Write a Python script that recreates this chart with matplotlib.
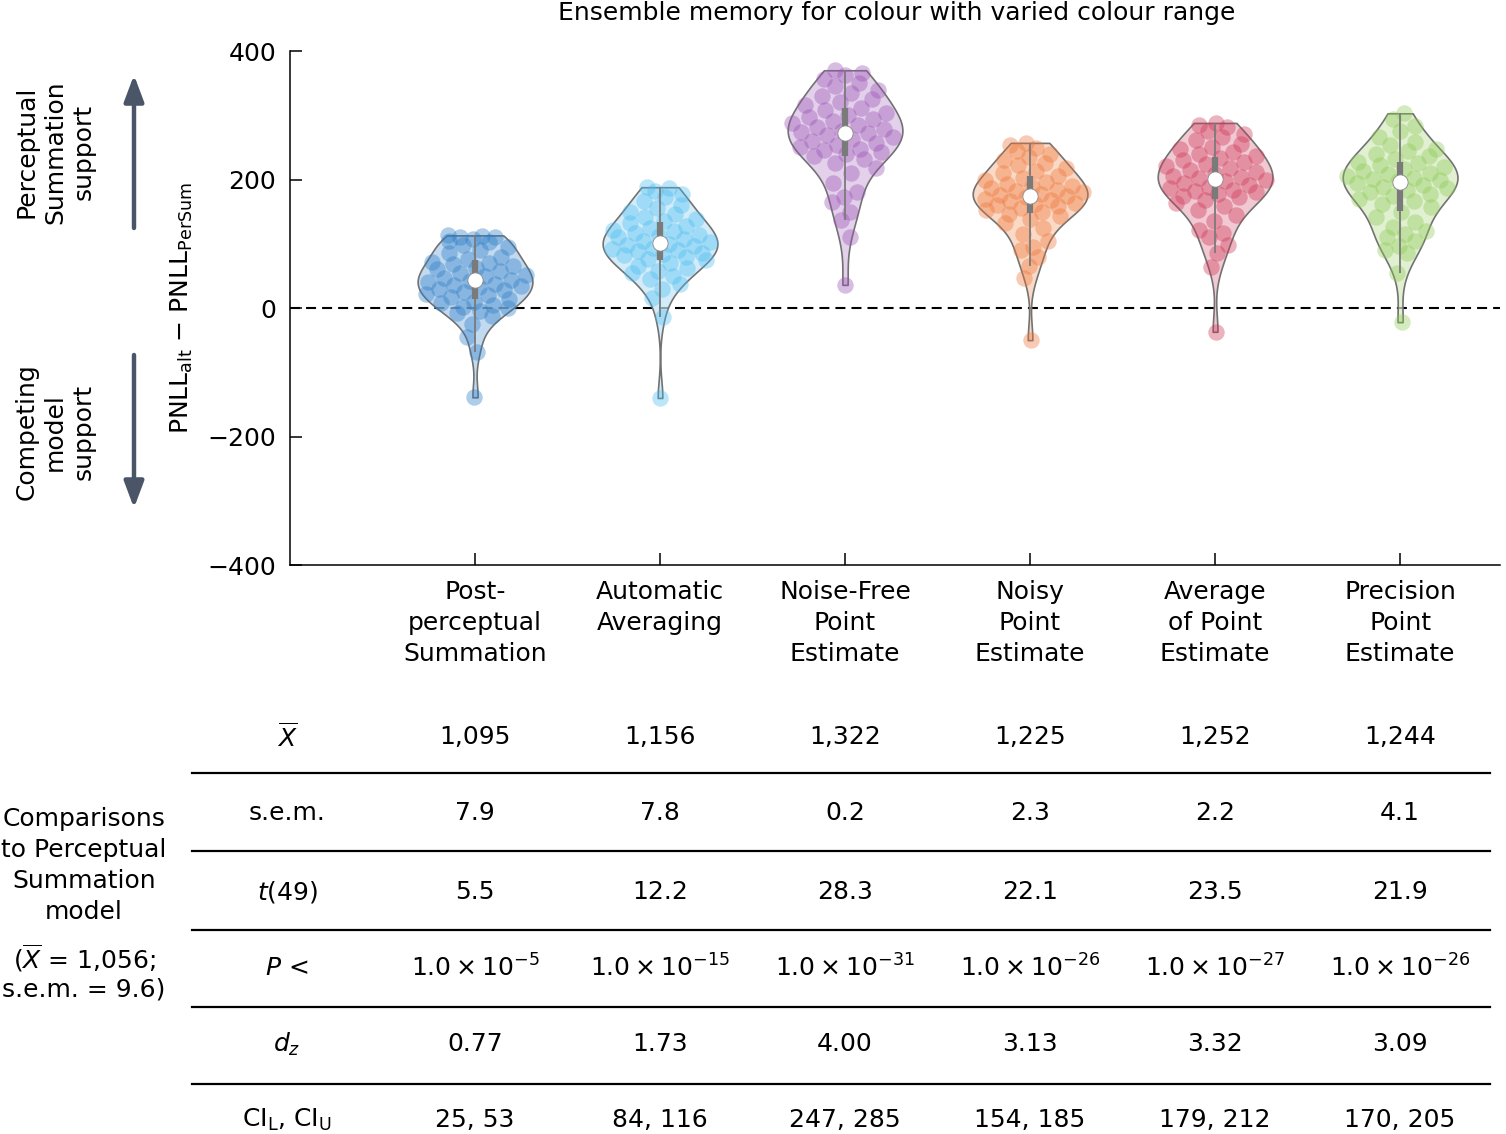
import numpy as np
import matplotlib
matplotlib.use("Agg")
import matplotlib.pyplot as plt
from matplotlib.colors import to_rgba
from matplotlib.lines import Line2D
import matplotlib.transforms as mtransforms

FONT = "DejaVu Sans"
plt.rcParams['font.family'] = [FONT]
plt.rcParams['mathtext.fontset'] = 'dejavusans'

# ---------------- data ----------------
categories = ["Post-\nperceptual\nSummation", "Automatic\nAveraging", "Noise-Free\nPoint\nEstimate",
              "Noisy\nPoint\nEstimate", "Average\nof Point\nEstimate", "Precision\nPoint\nEstimate"]

post_perceptual = [113, 112, 110, 110, 108, 105, 102, 98, 95, 90, 85, 80, 76, 72, 70, 68, 65, 62, 60, 57,
                   55, 52, 50, 47, 44, 42, 40, 38, 36, 35, 33, 30, 28, 25, 22, 20, 17, 14, 10, 8,
                   5, 2, 0, -4, -8, -12, -25, -45, -68, -139]
automatic_avg = [188, 186, 182, 178, 172, 166, 160, 155, 150, 146, 142, 138, 135, 132, 128, 125, 122, 120, 117, 114,
                 112, 110, 107, 105, 102, 100, 98, 96, 94, 92, 90, 88, 86, 84, 82, 80, 77, 74, 70, 66,
                 62, 58, 54, 50, 45, 38, 30, 15, -14, -140]
noise_free = [370, 366, 362, 356, 350, 345, 340, 335, 330, 325, 320, 316, 312, 308, 304, 300, 297, 294, 291, 288,
              285, 282, 279, 276, 274, 272, 269, 266, 263, 260, 257, 254, 251, 248, 246, 243, 240, 236, 232, 226,
              218, 210, 195, 180, 172, 165, 150, 137, 110, 36]
noisy = [257, 253, 249, 245, 240, 235, 230, 226, 222, 218, 214, 210, 206, 202, 199, 196, 193, 190, 188, 186,
         184, 182, 180, 178, 176, 174, 172, 170, 168, 166, 164, 162, 160, 158, 156, 153, 150, 147, 143, 138,
         132, 125, 115, 105, 95, 90, 80, 65, 47, -50]
average_pe = [288, 285, 281, 276, 271, 266, 261, 256, 251, 247, 243, 239, 236, 233, 230, 227, 224, 221, 218, 215,
              212, 209, 206, 204, 202, 200, 197, 194, 191, 188, 186, 184, 182, 180, 178, 175, 172, 168, 163, 158,
              152, 145, 135, 121, 116, 110, 98, 85, 64, -37]
precision_pe = [303, 294, 284, 275, 266, 259, 253, 248, 244, 240, 236, 232, 228, 225, 222, 219, 216, 213, 210, 208,
                206, 203, 201, 199, 197, 195, 192, 189, 186, 183, 180, 177, 174, 170, 166, 162, 157, 150, 142, 134,
                126, 120, 115, 110, 104, 97, 90, 85, 54, -22]

groups = [post_perceptual, automatic_avg, noise_free, noisy, average_pe, precision_pe]

point_colors = ["#2b7cc6", "#4dbdf0", "#9a52b4", "#ef7638", "#cf3556", "#8ccb55"]
fill_colors = ["#a9cbea", "#bfe5f8", "#d8bde3", "#f8c9ae", "#ebb3c0", "#d3eabd"]

yticks = [-400, -200, 0, 200, 400]

row_labels = [r"$\overline{X}$", "s.e.m.", r"$t$(49)", r"$P$ <", r"$d_z$",
              r"CI$_{\mathrm{L}}$, CI$_{\mathrm{U}}$"]
mean_vals = ["1,095", "1,156", "1,322", "1,225", "1,252", "1,244"]
sem_vals = ["7.9", "7.8", "0.2", "2.3", "2.2", "4.1"]
t_vals = ["5.5", "12.2", "28.3", "22.1", "23.5", "21.9"]
p_exps = ["-5", "-15", "-31", "-26", "-27", "-26"]
dz_vals = ["0.77", "1.73", "4.00", "3.13", "3.32", "3.09"]
ci_vals = ["25, 53", "84, 116", "247, 285", "154, 185", "179, 212", "170, 205"]

# ---------------- figure ----------------
W, H = 1506, 1134
fig = plt.figure(figsize=(W / 100, H / 100), dpi=100)
ax = fig.add_axes([290 / W, 1 - 565 / H, (1500 - 290) / W, (565 - 51) / H])
FS = 18

positions = np.arange(len(groups))
ax.set_xlim(-1, 5.54)
ax.set_ylim(-400, 400)

ax.axhline(0, color='black', lw=1.5, dashes=(4.8, 2.9), zorder=1)

VW = 0.62
parts = ax.violinplot(groups, positions=positions, widths=VW, showextrema=False)
for body, fc in zip(parts['bodies'], fill_colors):
    body.set_alpha(None)
    body.set_facecolor(to_rgba(fc, 0.7))
    body.set_edgecolor('#727272')
    body.set_linewidth(1.2)
    body.set_zorder(2)

golden = 0.6180339887
for i, (vals, pc) in enumerate(zip(groups, point_colors)):
    v = np.asarray(vals, float)
    n = len(v)
    h = v.std(ddof=1) * n ** (-0.2)
    grid = np.linspace(v.min(), v.max(), 300)
    dens = lambda y: np.exp(-0.5 * ((np.atleast_1d(y)[:, None] - v[None, :]) / h) ** 2).sum(1)
    dmax = dens(grid).max()
    half = (VW / 2) * dens(v) / dmax
    u = ((np.arange(n) * golden + 0.13 * i) % 1.0) * 2 - 1
    xs = positions[i] + half * u * 0.95
    ax.scatter(xs, v, s=140, color=pc, alpha=0.38, linewidths=0, zorder=3)

    q1, med, q3 = np.percentile(v, [25, 50, 75])
    iqr = q3 - q1
    lo = v[v >= q1 - 1.5 * iqr].min()
    hi = v[v <= q3 + 1.5 * iqr].max()
    ax.vlines(positions[i], lo, hi, color='#7a7a7a', lw=1.3, zorder=4)
    ax.vlines(positions[i], q1, q3, color='#7a7a7a', lw=4.5, zorder=4)
    ax.scatter([positions[i]], [med], s=120, color='white', edgecolors='#8a8a8a',
               linewidths=0.6, zorder=5)

ax.spines['top'].set_visible(False)
ax.spines['right'].set_visible(False)
for s in ['left', 'bottom']:
    ax.spines[s].set_linewidth(1.1)
ax.set_yticks(yticks)
ax.set_xticks(positions)
ax.set_xticklabels(categories, fontsize=FS, linespacing=1.36)
ax.tick_params(axis='both', direction='in', length=8.5, width=1.1, labelsize=FS, pad=10)
ax.tick_params(axis='x', pad=11)


def T(x, y, s, **kw):
    kw.setdefault('ha', 'center')
    kw.setdefault('va', 'center')
    kw.setdefault('fontsize', FS)
    return fig.text(x / W, 1 - y / H, s, **kw)


T(897, 13, "Ensemble memory for colour with varied colour range")

# y label and side annotations
T(182, 308, r"PNLL$_{\mathrm{alt}}$ − PNLL$_{\mathrm{PerSum}}$", rotation=90)
T(55, 152, "Perceptual\nSummation\nsupport", rotation=90, linespacing=1.25)
T(55, 432, "Competing\nmodel\nsupport", rotation=90, linespacing=1.25)
arrow_kw = dict(arrowstyle='-|>,head_width=0.3,head_length=0.8', color='#4a5568', lw=3.2,
                mutation_scale=20, shrinkA=0, shrinkB=0)
ax.annotate("", xy=(134, H - 75), xytext=(134, H - 228), xycoords='figure pixels',
            textcoords='figure pixels', arrowprops=arrow_kw, annotation_clip=False)
ax.annotate("", xy=(134, H - 508), xytext=(134, H - 355), xycoords='figure pixels',
            textcoords='figure pixels', arrowprops=arrow_kw, annotation_clip=False)

# ---------------- table ----------------
blend = mtransforms.blended_transform_factory(ax.transData, fig.transFigure)
row_y = [737, 813, 892, 968, 1044, 1120]
p_vals = ["1.0\u2009×\u200910$^{%s}$" % e for e in p_exps]
rows = [mean_vals, sem_vals, t_vals, p_vals, dz_vals, ci_vals]
for lab, y, vals in zip(row_labels, row_y, rows):
    T(287, y, lab)
    for xp, s in zip(positions, vals):
        fig.text(xp, 1 - y / H, s, transform=blend, ha='center', va='center', fontsize=FS)

for y in [773, 851, 930, 1007, 1084]:
    fig.add_artist(Line2D([192 / W, 1490 / W], [1 - y / H, 1 - y / H], color='black', lw=1.6))

for s, y in zip(["Comparisons", "to Perceptual", "Summation", "model"], [819, 850, 881, 912]):
    T(84, y, s)
T(84, 958, r"($\overline{X}$ = 1,056;")
T(84, 989, "s.e.m. = 9.6)")

fig.savefig("out.png", dpi=100)
